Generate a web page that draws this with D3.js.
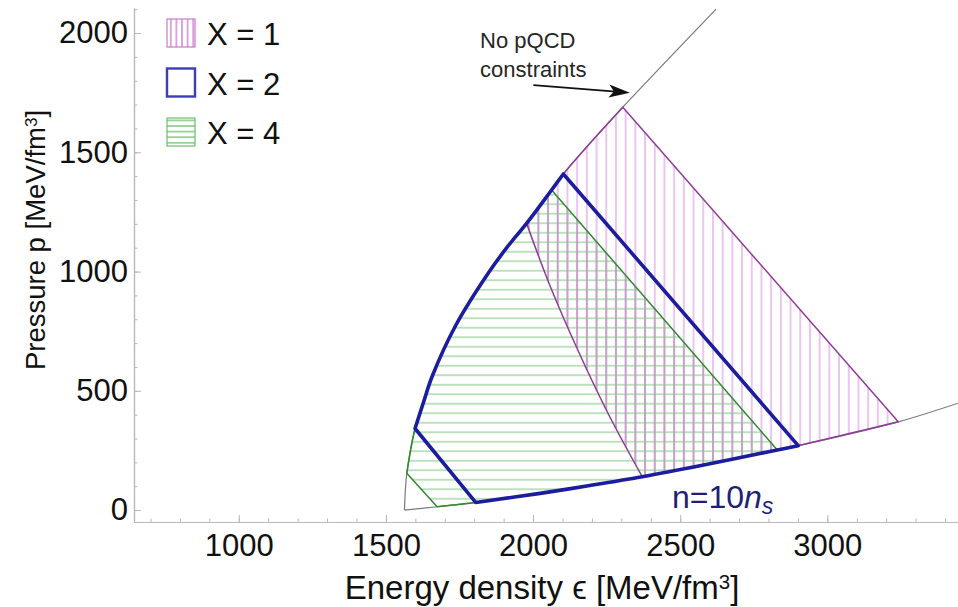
<!DOCTYPE html>
<html>
<head>
<meta charset="utf-8">
<script src="https://cdn.jsdelivr.net/npm/d3@7"></script>
<style>
  html, body { margin: 0; padding: 0; background: #fff; }
  svg { display: block; font-family: "Liberation Sans", Arial, Helvetica, sans-serif; }
</style>
</head>
<body>
<svg id="chart" width="958" height="607"></svg>
<script>
// ---- axes ----
const xDomain = [644, 3444];
const yDomain = [-50, 2105];
const xTicks = [1000, 1500, 2000, 2500, 3000];
const yTicks = [0, 500, 1000, 1500, 2000];

// ---- left envelope (energy density, pressure) ----
const leftEps = [1563, 1571, 1599, 1628, 1657, 1738, 1847, 1910, 1978, 2063, 2103, 2200, 2305, 2622];
const leftP   = [0, 154, 342, 453, 560, 776, 992, 1099, 1202, 1342, 1409, 1547, 1689, 2100];

// ---- lower envelope n = 10 n_s ----
const lowEps = [1563, 1674, 1805, 2024, 2193, 2371, 2567, 2830, 2901, 3241, 3444];
const lowP   = [0, 14, 32, 70, 103, 140, 186, 252, 270, 370, 448];

// ---- allowed regions: left edge and right edge, each from the upper to the lower envelope ----
const legendLabels = ["X = 1", "X = 2", "X = 4"];

const x1LeftEps  = [1978, 2059, 2152, 2255, 2371];
const x1LeftP    = [1202, 936, 671, 405, 140];
const x1RightEps = [2305, 3241];
const x1RightP   = [1689, 370];

const x2LeftEps  = [1599, 1805];
const x2LeftP    = [342, 32];
const x2RightEps = [2103, 2901];
const x2RightP   = [1409, 270];

const x4LeftEps  = [1571, 1674];
const x4LeftP    = [154, 14];
const x4RightEps = [2063, 2830];
const x4RightP   = [1342, 252];

// ---- annotation ----
const noteLines = ["No pQCD", "constraints"];
const noteAt = [[1820, 1936], [1820, 1817]];
const arrowFrom = [2001, 1782];
const arrowTo = [2329, 1750];
const curveLabelAt = [2472, 9];

// ---------------------------------------------------------------
const svg = d3.select("#chart");
const x = d3.scaleLinear().domain(xDomain).range([134, 958]);
const y = d3.scaleLinear().domain(yDomain).range([522, 8]);

const pts = (e, p) => e.map((v, i) => [v, p[i]]);
const leftEnv = pts(leftEps, leftP);
const lowEnv = pts(lowEps, lowP);

const lineGen = d3.line()
  .x(d => x(d[0])).y(d => y(d[1]))
  .curve(d3.curveCatmullRom.alpha(0.5));

// part of an envelope running from corner a to corner b
function envSlice(env, a, b) {
  const lo = Math.min(a[0], b[0]), hi = Math.max(a[0], b[0]);
  let inner = env.filter(d => d[0] > lo + 0.5 && d[0] < hi - 0.5);
  if (a[0] > b[0]) inner = inner.reverse();
  return [a, ...inner, b];
}

function regionPath(leftEdge, rightEdge) {
  const up = leftEdge.slice().reverse();
  const topArc = envSlice(leftEnv, leftEdge[0], rightEdge[0]);
  const bottomArc = envSlice(lowEnv, rightEdge[rightEdge.length - 1], leftEdge[leftEdge.length - 1]);
  return [up, topArc, rightEdge, bottomArc]
    .map((p, i) => { const s = lineGen(p); return i === 0 ? s : s.replace(/^M/, "L"); })
    .join("") + "Z";
}

const regions = {
  x1: regionPath(pts(x1LeftEps, x1LeftP), pts(x1RightEps, x1RightP)),
  x2: regionPath(pts(x2LeftEps, x2LeftP), pts(x2RightEps, x2RightP)),
  x4: regionPath(pts(x4LeftEps, x4LeftP), pts(x4RightEps, x4RightP))
};

// ---- patterns and clips ----
const defs = svg.append("defs");
function stripes(id, vertical, spacing, color, width) {
  const p = defs.append("pattern").attr("id", id)
    .attr("patternUnits", "userSpaceOnUse")
    .attr("width", vertical ? spacing : 20)
    .attr("height", vertical ? 20 : spacing);
  if (vertical) {
    p.append("line").attr("x1", spacing / 2).attr("x2", spacing / 2).attr("y1", -1).attr("y2", 21);
  } else {
    p.append("line").attr("y1", spacing / 2).attr("y2", spacing / 2).attr("x1", -1).attr("x2", 21);
  }
  p.select("line").attr("stroke", color).attr("stroke-width", width);
}
stripes("hatchPurple", true, 9.7, "#e0a3e7", 1.25);
stripes("hatchPurpleDark", true, 9.7, "#b28cb7", 1.25);
stripes("hatchGreen", false, 9.5, "#addcad", 1.6);
stripes("legendPurple", true, 5.6, "#c879cf", 1.3);
stripes("legendGreen", false, 5.6, "#6cbf6c", 1.3);

defs.append("clipPath").attr("id", "plotClip")
  .append("rect").attr("x", 134).attr("y", 8).attr("width", 958 - 134).attr("height", 522 - 8);
defs.append("clipPath").attr("id", "clipX4").append("path").attr("d", regions.x4);

const plot = svg.append("g").attr("clip-path", "url(#plotClip)");

// envelopes
plot.append("path").attr("d", lineGen(leftEnv))
  .attr("fill", "none").attr("stroke", "#7a7a7a").attr("stroke-width", 1.2);
plot.append("path").attr("d", lineGen(lowEnv))
  .attr("fill", "none").attr("stroke", "#7a7a7a").attr("stroke-width", 1.2);

// hatched fills
plot.append("path").attr("d", regions.x1).attr("fill", "url(#hatchPurple)");
plot.append("path").attr("d", regions.x4).attr("fill", "url(#hatchGreen)");
plot.append("path").attr("d", regions.x1).attr("fill", "url(#hatchPurpleDark)")
  .attr("clip-path", "url(#clipX4)");

// outlines
plot.append("path").attr("d", regions.x1).attr("fill", "none")
  .attr("stroke", "#8f3c98").attr("stroke-width", 1.5).attr("stroke-linejoin", "round");
plot.append("path").attr("d", regions.x4).attr("fill", "none")
  .attr("stroke", "#2f8a2f").attr("stroke-width", 1.5).attr("stroke-linejoin", "round");
plot.append("path").attr("d", regions.x2).attr("fill", "none")
  .attr("stroke", "#1c1c9e").attr("stroke-width", 3.6).attr("stroke-linejoin", "round");

// ---- axes ----
const axisColor = "#b9b9b9";
function styleAxis(g) {
  g.select(".domain").attr("stroke", axisColor).attr("stroke-width", 1.2);
  g.selectAll(".tick line").attr("stroke", axisColor).attr("stroke-width", 1);
  g.selectAll(".tick text").attr("fill", "#111").attr("font-size", 31)
    .attr("font-family", "'Liberation Sans', Arial, sans-serif");
}
const xMinor = d3.range(700, 3401, 100);
const yMinor = d3.range(0, 2101, 100);

const gxMinor = svg.append("g").attr("transform", `translate(0,${y.range()[0]})`)
  .call(d3.axisBottom(x).tickValues(xMinor).tickSize(-3.5).tickSizeOuter(0).tickFormat(""));
styleAxis(gxMinor);
const gx = svg.append("g").attr("transform", `translate(0,${y.range()[0]})`)
  .call(d3.axisBottom(x).tickValues(xTicks).tickSize(-7).tickSizeOuter(0).tickPadding(12).tickFormat(d3.format("d")));
styleAxis(gx);

const gyMinor = svg.append("g").attr("transform", `translate(${x.range()[0]},0)`)
  .call(d3.axisLeft(y).tickValues(yMinor).tickSize(-3.5).tickSizeOuter(0).tickFormat(""));
styleAxis(gyMinor);
const gy = svg.append("g").attr("transform", `translate(${x.range()[0]},0)`)
  .call(d3.axisLeft(y).tickValues(yTicks).tickSize(-7).tickSizeOuter(0).tickPadding(6).tickFormat(d3.format("d")));
styleAxis(gy);

// axis titles
const xt = svg.append("text").attr("x", 542).attr("y", 599).attr("text-anchor", "middle")
  .attr("font-size", 33).attr("fill", "#111");
xt.append("tspan").text("Energy density ϵ [MeV/fm");
xt.append("tspan").attr("dy", "-0.48em").attr("font-size", "0.62em").text("3");
xt.append("tspan").attr("dy", "0.3em").text("]");

const yt = svg.append("text").attr("transform", "translate(45,240) rotate(-90)")
  .attr("text-anchor", "middle").attr("font-size", 27.5).attr("fill", "#111");
yt.append("tspan").text("Pressure p [MeV/fm");
yt.append("tspan").attr("dy", "-0.48em").attr("font-size", "0.62em").text("3");
yt.append("tspan").attr("dy", "0.3em").text("]");

// ---- annotation ----
noteLines.forEach((t, i) => {
  svg.append("text").attr("x", x(noteAt[i][0])).attr("y", y(noteAt[i][1]))
    .attr("font-size", 22).attr("fill", "#262626").text(t);
});
const ax0 = x(arrowFrom[0]), ay0 = y(arrowFrom[1]);
const ax1 = x(arrowTo[0]), ay1 = y(arrowTo[1]);
const ang = Math.atan2(ay1 - ay0, ax1 - ax0);
svg.append("line").attr("x1", ax0).attr("y1", ay0)
  .attr("x2", ax1 - 14 * Math.cos(ang)).attr("y2", ay1 - 14 * Math.sin(ang))
  .attr("stroke", "#111").attr("stroke-width", 1.8);
svg.append("path").attr("d", "M0,0 L-21,-6.5 L-16,0 L-21,6.5 Z")
  .attr("transform", `translate(${ax1},${ay1}) rotate(${ang * 180 / Math.PI})`).attr("fill", "#111");

// curve label n = 10 n_s
const cl = svg.append("text").attr("x", x(curveLabelAt[0])).attr("y", y(curveLabelAt[1]))
  .attr("font-size", 32).attr("fill", "#1f1f7a");
cl.append("tspan").text("n=10");
cl.append("tspan").attr("font-style", "italic").text("n");
cl.append("tspan").attr("font-style", "italic").attr("font-size", "0.72em").attr("dy", "0.25em").text("s");

// ---- legend ----
const swFill = ["url(#legendPurple)", "#fff", "url(#legendGreen)"];
const swStroke = ["#c879cf", "#3d3db8", "#6cbf6c"];
const swWidth = [1.2, 2.4, 1.2];
const legend = svg.append("g");
legendLabels.forEach((lab, i) => {
  const yy = 19 + i * 49.5;
  legend.append("rect").attr("x", 167).attr("y", yy).attr("width", 28).attr("height", 28)
    .attr("fill", swFill[i]).attr("stroke", swStroke[i]).attr("stroke-width", swWidth[i]);
  legend.append("text").attr("x", 207).attr("y", yy + 26).attr("font-size", 31)
    .attr("fill", "#111").text(lab);
});
</script>
</body>
</html>
